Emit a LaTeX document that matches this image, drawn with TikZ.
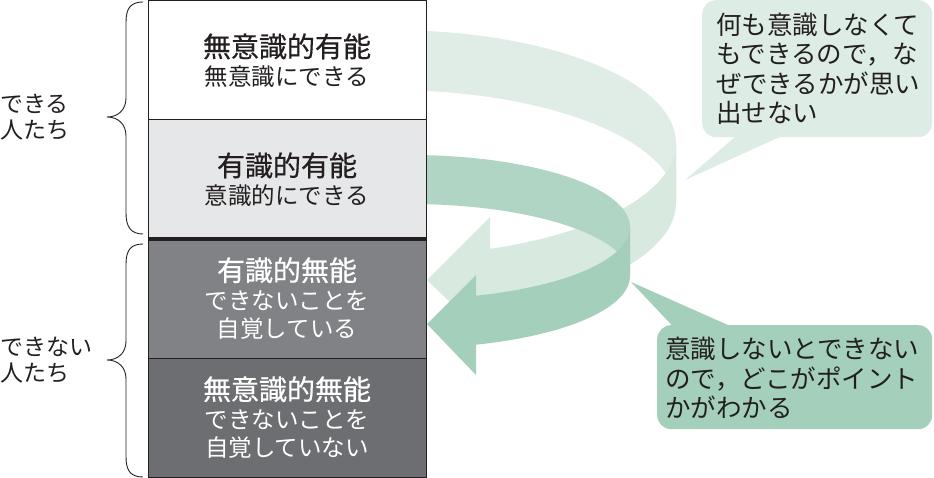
\documentclass[tikz,border=0pt]{standalone}
\usepackage{fontspec}
\setmainfont{Noto Sans CJK JP}
\newfontfamily\titlefont[FakeBold=0.5]{Noto Sans CJK JP}
\definecolor{ink}{HTML}{231F20}
\definecolor{graylight}{HTML}{E6E7E8}
\definecolor{graymid}{HTML}{808285}
\definecolor{graydark}{HTML}{6D6E71}
\definecolor{lightback}{HTML}{E0ECE6}
\definecolor{lightfront}{HTML}{D8EAE0}
\definecolor{darkback}{HTML}{B1D5C4}
\definecolor{darkfront}{HTML}{A4CFBA}
\definecolor{bubA}{HTML}{DDECE4}
\definecolor{bubB}{HTML}{A4CFBA}
\tikzset{
  box/.style={draw=ink, line width=1pt, minimum width=278pt, minimum height=119pt,
    inner sep=0pt, align=center, font=\fontsize{23.5}{28.5}\selectfont},
  lab/.style={inner sep=0pt, align=left, text=ink, font=\fontsize{23}{26}\selectfont},
  btxt/.style={inner sep=0pt, align=left, text=ink, font=\fontsize{25.5}{29.5}\selectfont},
  bubble/.style={inner sep=0pt, rounded corners=14pt, anchor=north west},
  brace/.style={draw=ink, line width=0.9pt}
}
\begin{document}
\begin{tikzpicture}[x=1pt,y=-1pt]
\useasboundingbox (0,0) rectangle (934,478);
% light spiral arrow
\fill[lightback] plot[domain=83.58:0, samples=60, variable=\t] ({390+286*cos(\t)},{143-113*sin(\t)})
  -- plot[domain=0:83.58, samples=60, variable=\t] ({390+286*cos(\t)},{203-113*sin(\t)}) -- cycle;
\fill[lightfront] plot[domain=0:-69.53, samples=60, variable=\t] ({390+286*cos(\t)},{143-113*sin(\t)})
  -- (490,217) -- (427,280) -- (490,341)
  -- plot[domain=-69.53:0, samples=60, variable=\t] ({390+286*cos(\t)},{203-113*sin(\t)}) -- cycle;
% dark spiral arrow
\fill[darkback] plot[domain=86.87:0, samples=60, variable=\t] ({410+220*cos(\t)},{227-72*sin(\t)})
  -- plot[domain=0:86.87, samples=60, variable=\t] ({410+220*cos(\t)},{276-72*sin(\t)}) -- cycle;
\fill[darkfront] plot[domain=0:-72.54, samples=60, variable=\t] ({410+220*cos(\t)},{227-72*sin(\t)})
  -- (476,275) -- (427,324) -- (476,375)
  -- plot[domain=-72.54:0, samples=60, variable=\t] ({410+220*cos(\t)},{276-72*sin(\t)}) -- cycle;
% boxes
\node[box, fill=white, text=ink] (q1) at (287,60.5) {{\titlefont\fontsize{28}{28.5}\selectfont 無意識的有能}\\無意識にできる};
\node[box, fill=graylight, text=ink] (q2) at (287,179.5) {{\titlefont\fontsize{28}{28.5}\selectfont 有識的有能}\\意識的にできる};
\node[box, fill=graymid, text=white] (q3) at (287,298.5) {{\titlefont\fontsize{28}{28.5}\selectfont 有識的無能}\\できないことを\\自覚している};
\node[box, fill=graydark, text=white] (q4) at (287,417.5) {{\titlefont\fontsize{28}{28.5}\selectfont 無意識的無能}\\できないことを\\自覚していない};
\draw[ink, line width=4pt] (q2.south west) -- (q2.south east);
% braces
\draw[brace] (143,2) .. controls (131,2) and (126,8) .. (126,22) -- (126,98)
  .. controls (126,110) and (118,117) .. (107,117)
  .. controls (118,117) and (126,124) .. (126,136) -- (126,213)
  .. controls (126,227) and (131,234) .. (143,234);
\draw[brace] (143,244) .. controls (131,244) and (126,250) .. (126,264) -- (126,341)
  .. controls (126,353) and (118,360) .. (107,360)
  .. controls (118,360) and (126,367) .. (126,379) -- (126,457)
  .. controls (126,471) and (131,477) .. (143,477);
% left labels
\node[lab, anchor=north west] (can) at (0,94) {できる\\人たち};
\node[lab, anchor=north west] (cannot) at (0,337) {できない\\人たち};
% bubble A
\node[bubble, fill=bubA, minimum width=230pt, minimum height=137pt] (bA) at (702,0) {};
\coordinate (tipA) at (685,180);
\fill[bubA] (tipA) -- (749,125) -- (806,125) -- cycle;
\node[btxt, anchor=north west] (txtA) at (716,12.5) {何も意識しなくて\\もできるので，な\\ぜできるかが思い\\出せない};
% bubble B
\node[bubble, fill=bubB, minimum width=275pt, minimum height=104pt] (bB) at (657,325) {};
\coordinate (tipB) at (631,282);
\fill[bubB] (tipB) -- (683,337) -- (755,337) -- cycle;
\node[btxt, anchor=north west] (txtB) at (665,337) {意識しないとできない\\ので，どこがポイント\\かがわかる};
\end{tikzpicture}
\end{document}
